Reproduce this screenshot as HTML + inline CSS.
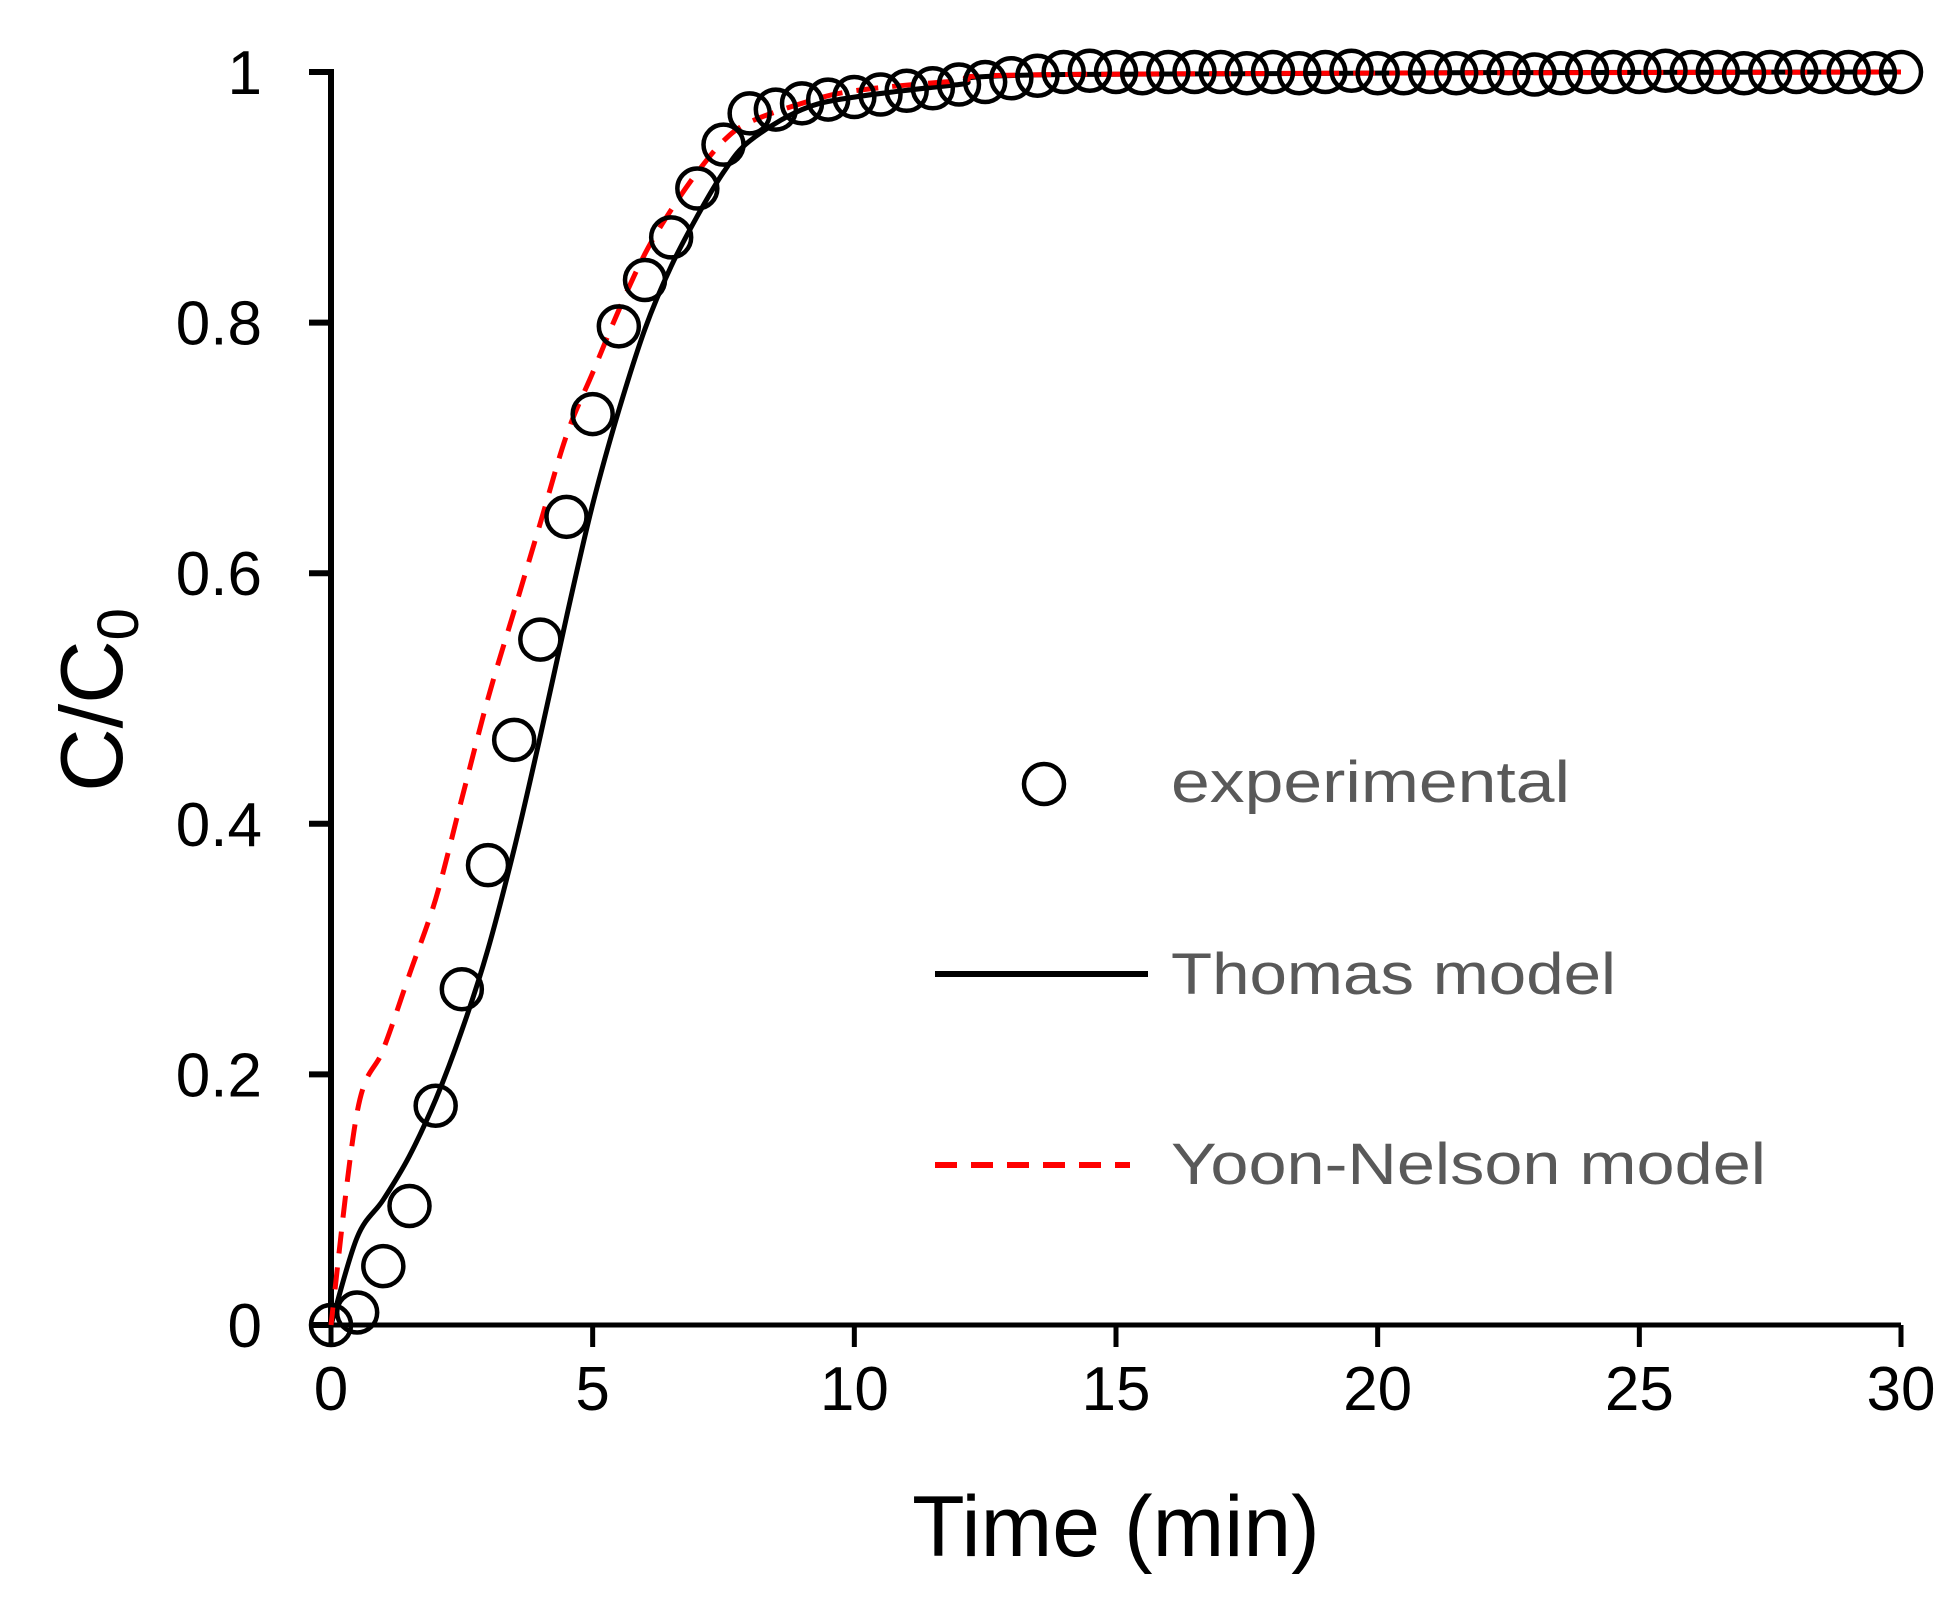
<!DOCTYPE html>
<html><head><meta charset="utf-8"><style>
html,body{margin:0;padding:0;background:#fff;}
svg{display:block;font-family:"Liberation Sans",sans-serif;}
</style></head><body>
<svg id="chart" width="1959" height="1604" viewBox="0 0 1959 1604" xmlns="http://www.w3.org/2000/svg">
<g id="axes"></g>
<g id="series"></g>
<g id="legend">
  <circle cx="1044" cy="784" r="20" fill="none" stroke="#000" stroke-width="4.5"/>
  <text x="1171" y="802" font-size="58" fill="#595959" textLength="399" lengthAdjust="spacingAndGlyphs">experimental</text>
  <line x1="935" y1="974" x2="1148" y2="974" stroke="#000" stroke-width="6"/>
  <text x="1171" y="994" font-size="58" fill="#595959" textLength="445" lengthAdjust="spacingAndGlyphs">Thomas model</text>
  <line x1="935" y1="1165" x2="1130" y2="1165" stroke="#ff0000" stroke-width="6" stroke-dasharray="22,14"/>
  <text x="1171" y="1184" font-size="58" fill="#595959" textLength="595" lengthAdjust="spacingAndGlyphs">Yoon-Nelson model</text>
</g>
<text x="1116" y="1556" font-size="86" text-anchor="middle" fill="#000">Time (min)</text>
<text transform="translate(122,700) rotate(-90)" font-size="88" text-anchor="middle" fill="#000">C/C<tspan font-size="58" dy="16">0</tspan></text>
</svg>
<script>
const xTicks = [0, 5, 10, 15, 20, 25, 30];
const yTicks = [0, 0.2, 0.4, 0.6, 0.8, 1];
const yTickLabels = ["0", "0.2", "0.4", "0.6", "0.8", "1"];
const expTime = [0,0.5,1,1.5,2,2.5,3,3.5,4,4.5,5,5.5,6,6.5,7,7.5,8,8.5,9,9.5,10,10.5,11,11.5,12,12.5,13,13.5,14,14.5,15,15.5,16,16.5,17,17.5,18,18.5,19,19.5,20,20.5,21,21.5,22,22.5,23,23.5,24,24.5,25,25.5,26,26.5,27,27.5,28,28.5,29,29.5,30];
const expValues = [0,0.01,0.047,0.095,0.175,0.268,0.367,0.467,0.547,0.645,0.727,0.797,0.834,0.868,0.907,0.942,0.967,0.97,0.975,0.978,0.98,0.982,0.985,0.987,0.99,0.992,0.995,0.997,1.0,1.001,1.0,0.999,1.0,1.0,1.0,0.999,1.0,0.999,1.0,1.001,0.999,0.999,1.0,0.999,1.0,0.999,0.998,0.999,1.0,1.0,1.0,1.001,1.0,1.0,0.999,1.0,1.0,1.0,1.0,0.999,1.0];
const thomasTime = [0,0.5,1,1.5,2,2.5,3,3.5,4,4.5,5,5.5,6,6.5,7,7.5,8,9,10,12,14,30];
const thomasValues = [0,0.07,0.1,0.135,0.18,0.235,0.3,0.38,0.47,0.565,0.655,0.73,0.795,0.845,0.885,0.92,0.945,0.97,0.98,0.99,0.998,1];
const yoonTime = [0,0.5,1,1.5,2,2.5,3,3.5,4,4.5,5,5.5,6,6.5,7,7.5,8,9,10,12,14,30];
const yoonValues = [0,0.17,0.22,0.28,0.34,0.42,0.5,0.57,0.64,0.71,0.76,0.81,0.855,0.89,0.92,0.945,0.96,0.975,0.985,0.993,0.998,1];

const X0 = 331, X1 = 1901, Y0 = 1325, Y1 = 72;
const xs = v => X0 + (v - 0) / 30 * (X1 - X0);
const ys = v => Y0 - v * (Y0 - Y1);
const NS = "http://www.w3.org/2000/svg";
const axes = document.getElementById('axes');
const series = document.getElementById('series');
function mk(tag, attrs, parent) {
  const e = document.createElementNS(NS, tag);
  for (const k in attrs) e.setAttribute(k, attrs[k]);
  parent.appendChild(e);
  return e;
}
let el = mk('line', {x1: X0, y1: Y0, x2: X0, y2: Y1 - 3, stroke: '#000', 'stroke-width': 6}, axes);


el = mk('line', {x1: X0 - 3, y1: Y0, x2: X1, y2: Y0, stroke: '#000', 'stroke-width': 5}, axes);


yTicks.forEach((t, i) => {
  const tk = mk('line', {x1: X0 - 22, y1: ys(t), x2: X0, y2: ys(t), stroke: '#000', 'stroke-width': 6}, axes);
  
  
  const lb = mk('text', {x: 262, y: ys(t) + 22, 'font-size': 62, 'text-anchor': 'end', fill: '#000'}, axes);
  lb.textContent = yTickLabels[i];
  
  
});
xTicks.forEach(t => {
  const tk = mk('line', {x1: xs(t), y1: Y0, x2: xs(t), y2: Y0 + 22, stroke: '#000', 'stroke-width': 5}, axes);
  
  
  const lb = mk('text', {x: xs(t), y: 1410, 'font-size': 62, 'text-anchor': 'middle', fill: '#000'}, axes);
  lb.textContent = String(t);
  
  
});
function smoothPath(tx, vy) {
  const p = tx.map((t, i) => [xs(t), ys(vy[i])]);
  let d = 'M' + p[0][0].toFixed(1) + ',' + p[0][1].toFixed(1);
  for (let i = 0; i < p.length - 1; i++) {
    const a = p[i - 1] || p[i], b = p[i], c = p[i + 1], e = p[i + 2] || c;
    const c1 = [b[0] + (c[0] - a[0]) / 6, b[1] + (c[1] - a[1]) / 6];
    const c2 = [c[0] - (e[0] - b[0]) / 6, c[1] - (e[1] - b[1]) / 6];
    d += ' C' + c1[0].toFixed(1) + ',' + c1[1].toFixed(1) + ' ' + c2[0].toFixed(1) + ',' + c2[1].toFixed(1) + ' ' + c[0].toFixed(1) + ',' + c[1].toFixed(1);
  }
  return d;
}
el = mk('path', {d: smoothPath(thomasTime, thomasValues), fill: 'none', stroke: '#000', 'stroke-width': 5, 'stroke-linejoin': 'round'}, series);


el = mk('path', {d: smoothPath(yoonTime, yoonValues), fill: 'none', stroke: '#ff0000', 'stroke-width': 5, 'stroke-dasharray': '22,14'}, series);


expTime.forEach((t, i) => {
  const c = mk('circle', {cx: xs(t), cy: ys(expValues[i]), r: 20, fill: 'none', stroke: '#000', 'stroke-width': 4.5}, series);
  
  
});
</script>
</body></html>
